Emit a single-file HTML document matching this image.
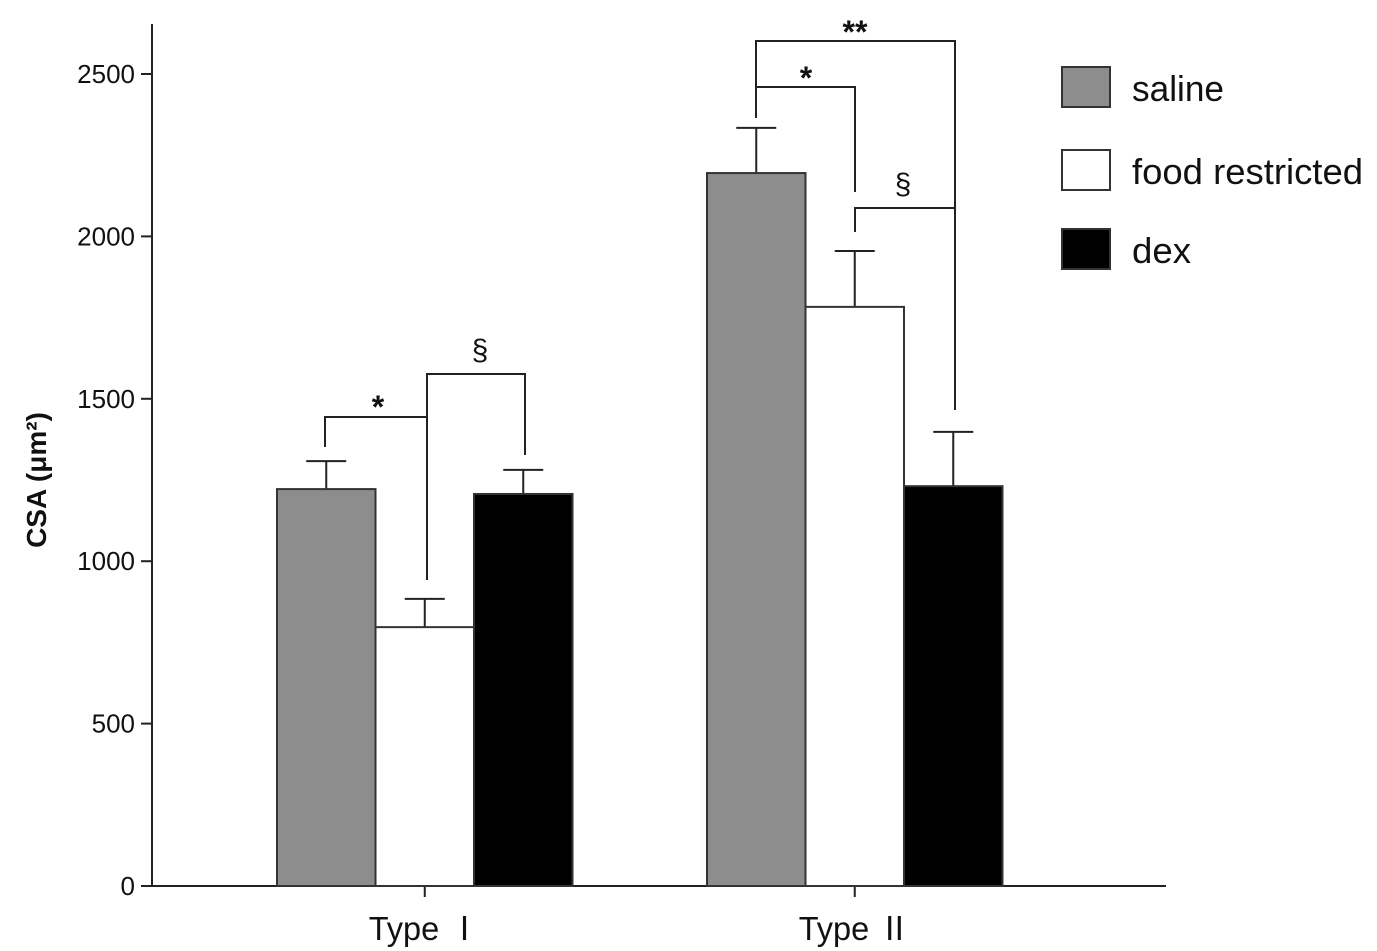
<!DOCTYPE html>
<html><head><meta charset="utf-8"><style>
html,body{margin:0;padding:0;background:#fff;}
svg{display:block;font-family:"Liberation Sans","Noto Sans CJK JP",sans-serif;}
</style></head><body>
<svg id="chart" width="1377" height="951" viewBox="0 0 1377 951">
<g id="axes"></g>
<g id="bars"></g>
<g id="sig"></g>
<g id="legend"></g>
<text x="0" y="0" transform="translate(46,480) rotate(-90)" text-anchor="middle" font-size="28" font-weight="bold" fill="#111">CSA (μm²)</text>
</svg>
<script>
const categories = ["Type Ⅰ", "Type Ⅱ"];
const seriesNames = ["saline", "food restricted", "dex"];
const salineVals = [1222, 2195];
const foodVals = [797, 1783];
const dexVals = [1207, 1231];
const salineErr = [86, 139];
const foodErr = [87, 172];
const dexErr = [74, 167];
const yTicks = [0, 500, 1000, 1500, 2000, 2500];
const seriesColors = ["#8d8d8d", "#ffffff", "#000000"];

const NS = "http://www.w3.org/2000/svg";
function mk(tag, attrs, parent){const e=document.createElementNS(NS,tag);for(const k in attrs)e.setAttribute(k,attrs[k]);parent.appendChild(e);return e;}
const y0 = 886, pxPerUnit = 812/2500;
function yScale(v){return y0 - v*pxPerUnit;}
const groupStart = [277, 707], barW = 98.5;
function xBar(g,s){return groupStart[g] + s*barW;}

const axes = document.getElementById('axes');
let l = mk('line',{x1:152,y1:24,x2:152,y2:886,stroke:'#222','stroke-width':2},axes);


l = mk('line',{x1:151,y1:886,x2:1166,y2:886,stroke:'#222','stroke-width':2},axes);


yTicks.forEach(t=>{
  const y=yScale(t);
  const tk=mk('line',{x1:141,y1:y,x2:152,y2:y,stroke:'#222','stroke-width':2},axes);
  
  
  const tx=mk('text',{x:135,y:y+9,'text-anchor':'end','font-size':26,fill:'#111'},axes);
  tx.textContent=t;
  
  
});
categories.forEach((c,g)=>{
  const cx = xBar(g,1.5);
  const tk=mk('line',{x1:cx,y1:886,x2:cx,y2:897,stroke:'#222','stroke-width':2},axes);
  
  
  const tx=mk('text',{x:cx,y:940,'text-anchor':'middle','font-size':33,fill:'#111',textLength:112,lengthAdjust:'spacingAndGlyphs'},axes);
  tx.textContent=c;
  
  
});

const bars = document.getElementById('bars');
const vals=[salineVals,foodVals,dexVals], errs=[salineErr,foodErr,dexErr];
categories.forEach((c,g)=>{
  [0,1,2].forEach(s=>{
    const x=xBar(g,s), v=vals[s][g], e=errs[s][g], cx=x+barW/2;
    const top=yScale(v), et=yScale(v+e);
    const er=mk('line',{x1:cx,y1:top,x2:cx,y2:et,stroke:'#222','stroke-width':2},bars);
    
    
    const cap=mk('line',{x1:cx-20,y1:et,x2:cx+20,y2:et,stroke:'#222','stroke-width':2},bars);
    
    
    const r=mk('rect',{x:x,y:top,width:barW,height:y0-top,fill:seriesColors[s],stroke:'#333','stroke-width':2},bars);
    
    
  });
});

const sig=document.getElementById('sig');
function bracket(x1,y1a,x2,y2a,yTop,label,lx,ly,fs){
  const p=mk('polyline',{points:`${x1},${y1a} ${x1},${yTop} ${x2},${yTop} ${x2},${y2a}`,fill:'none',stroke:'#222','stroke-width':2},sig);
  
  
  const t=mk('text',{x:lx,y:ly,'text-anchor':'middle','font-size':fs,'font-weight':label.includes('*')?'bold':'normal',fill:'#111'},sig);
  t.textContent=label;
  
  
}
bracket(325,447,427,580,417,'*',378,418,32);
bracket(427,417,525,455,374,'§',480,360,30);
bracket(756,118,855,192,87,'*',806,89,32);
bracket(756,87,955,410,41,'**',855,43,32);
bracket(855,232,955,232,208,'§',903,194,30);

const lg=document.getElementById('legend');
const ly=[67,150,229];
seriesNames.forEach((n,i)=>{
  const r=mk('rect',{x:1062,y:ly[i],width:48,height:40,fill:seriesColors[i],stroke:'#333','stroke-width':2},lg);
  
  
  const attrs={x:1132,y:ly[i]+34,'font-size':36,fill:'#111'};
  if(n==='food restricted'){attrs.textLength=231;attrs.lengthAdjust='spacingAndGlyphs';}
  if(n==='saline'){attrs.textLength=92;attrs.lengthAdjust='spacingAndGlyphs';}
  if(n==='dex'){attrs.textLength=59;attrs.lengthAdjust='spacingAndGlyphs';}
  const t=mk('text',attrs,lg);
  t.textContent=n;
  
  
});
</script>
</body></html>
